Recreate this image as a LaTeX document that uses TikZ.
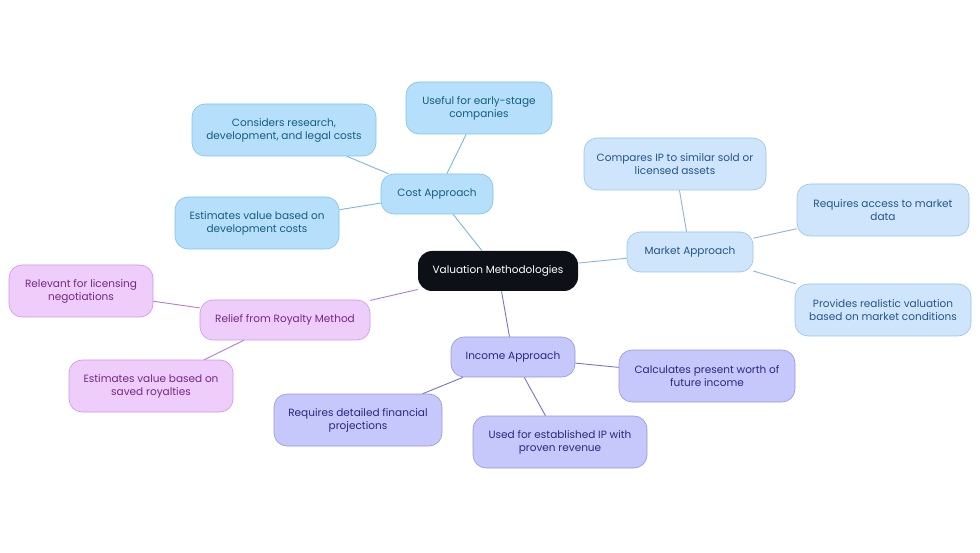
\documentclass[tikz,border=0pt]{standalone}
\usepackage{fontspec}
\setmainfont{Poppins}
\begin{document}
\begin{tikzpicture}[x=1pt,y=-1pt,
 base/.style={rounded corners=13pt,align=center,font=\fontsize{10.5}{13}\selectfont,inner sep=0pt,line width=0.6pt},
 cost/.style={base,fill=cyan!25!blue!5!white,draw=cyan!40!blue!40,text=cyan!40!black,fill={rgb,255:red,182;green,223;blue,252},draw={rgb,255:red,125;green,195;blue,235},text={rgb,255:red,20;green,95;blue,125}},
 mkt/.style={base,fill={rgb,255:red,207;green,229;blue,251},draw={rgb,255:red,150;green,195;blue,235},text={rgb,255:red,35;green,85;blue,140}},
 inc/.style={base,fill={rgb,255:red,198;green,200;blue,251},draw={rgb,255:red,150;green,150;blue,225},text={rgb,255:red,40;green,40;blue,130}},
 roy/.style={base,fill={rgb,255:red,238;green,205;blue,251},draw={rgb,255:red,205;green,150;blue,230},text={rgb,255:red,115;green,40;blue,135}},
 lc/.style={draw={rgb,255:red,120;green,185;blue,215},line width=0.9pt},
 lm/.style={draw={rgb,255:red,140;green,180;blue,220},line width=0.9pt},
 li/.style={draw={rgb,255:red,120;green,115;blue,200},line width=0.9pt},
 lr/.style={draw={rgb,255:red,185;green,120;blue,210},line width=0.9pt}]
\useasboundingbox (0,0) rectangle (980,553);
\node[base,fill={rgb,255:red,13;green,17;blue,23},text=white,minimum width=160pt,minimum height=40pt,rounded corners=14pt] (root) at (498,271) {Valuation Methodologies};
\node[cost,minimum width=112pt,minimum height=40pt] (c) at (437,194) {Cost Approach};
\node[cost,minimum width=146pt,minimum height=52pt] (c1) at (479,108) {Useful for early-stage\\companies};
\node[cost,minimum width=184pt,minimum height=52pt] (c2) at (284,130) {Considers research,\\development, and legal costs};
\node[cost,minimum width=164pt,minimum height=52pt] (c3) at (257,223) {Estimates value based on\\development costs};
\node[mkt,minimum width=126pt,minimum height=40pt] (m) at (690,252) {Market Approach};
\node[mkt,minimum width=182pt,minimum height=52pt] (m1) at (675,164) {Compares IP to similar sold or\\licensed assets};
\node[mkt,minimum width=172pt,minimum height=52pt] (m2) at (883,210) {Requires access to market\\data};
\node[mkt,minimum width=176pt,minimum height=52pt] (m3) at (883,310) {Provides realistic valuation\\based on market conditions};
\node[inc,minimum width=124pt,minimum height=40pt] (i) at (513,357) {Income Approach};
\node[inc,minimum width=176pt,minimum height=52pt] (i1) at (707,376) {Calculates present worth of\\future income};
\node[inc,minimum width=174pt,minimum height=52pt] (i2) at (560,442) {Used for established IP with\\proven revenue};
\node[inc,minimum width=168pt,minimum height=52pt] (i3) at (358,420) {Requires detailed financial\\projections};
\node[roy,minimum width=170pt,minimum height=40pt] (r) at (285,320) {Relief from Royalty Method};
\node[roy,minimum width=144pt,minimum height=52pt] (r1) at (81,291) {Relevant for licensing\\negotiations};
\node[roy,minimum width=164pt,minimum height=52pt] (r2) at (151,386) {Estimates value based on\\saved royalties};
\begin{scope}[on background layer/.try]
\end{scope}
\draw[lc] (root) -- (c); \draw[lc] (c) -- (c1); \draw[lc] (c) -- (c2); \draw[lc] (c) -- (c3);
\draw[lm] (root) -- (m); \draw[lm] (m) -- (m1); \draw[lm] (m) -- (m2); \draw[lm] (m) -- (m3);
\draw[li] (root) -- (i); \draw[li] (i) -- (i1); \draw[li] (i) -- (i2); \draw[li] (i) -- (i3);
\draw[lr] (root) -- (r); \draw[lr] (r) -- (r1); \draw[lr] (r) -- (r2);
\end{tikzpicture}
\end{document}
